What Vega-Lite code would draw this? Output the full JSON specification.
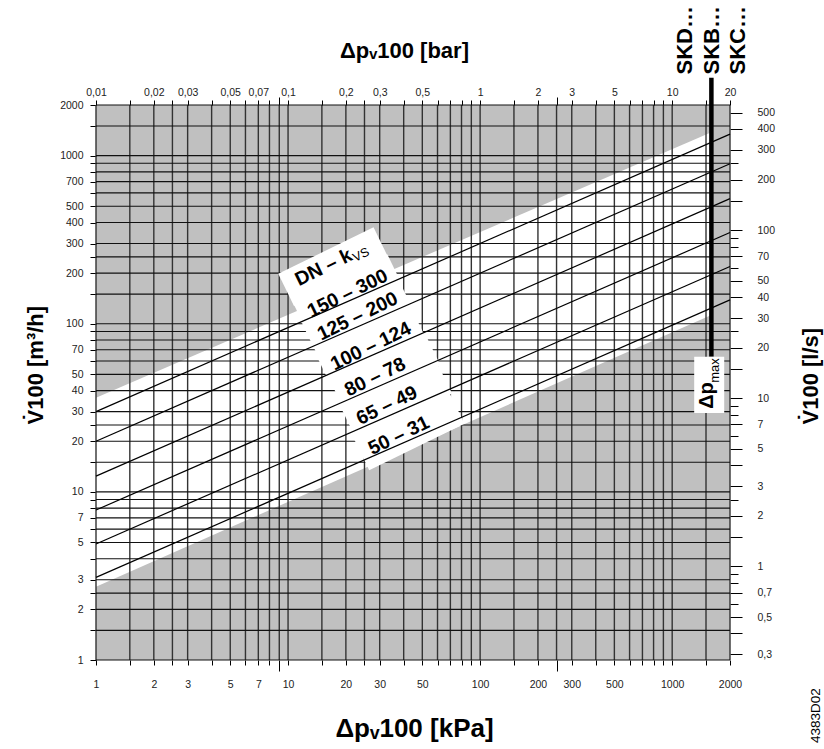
{
  "$schema": "https://vega.github.io/schema/vega-lite/v6.json",
  "width": 634,
  "height": 555,
  "autosize": {"type": "none"},
  "padding": {"left": 96, "top": 105, "right": 94, "bottom": 89},
  "background": "white",
  "config": {
    "view": {"fill": "#c0c0c0", "stroke": null},
    "font": "Liberation Sans",
    "axis": {
      "domain": false,
      "grid": false,
      "tickColor": "#000",
      "tickWidth": 1,
      "labelFont": "Liberation Sans",
      "labelFontSize": 10.5,
      "labelColor": "#222",
      "labelOverlap": false,
      "labelFlush": false,
      "titleFont": "Liberation Sans",
      "titleFontWeight": "bold",
      "titleColor": "#000"
    }
  },
  "datasets": {
    "grid": [
      {"g": 1}, {"g": 1.5}, {"g": 2}, {"g": 2.5}, {"g": 3}, {"g": 4}, {"g": 5}, {"g": 6}, {"g": 7}, {"g": 8}, {"g": 9},
      {"g": 10}, {"g": 15}, {"g": 20}, {"g": 25}, {"g": 30}, {"g": 40}, {"g": 50}, {"g": 60}, {"g": 70}, {"g": 80}, {"g": 90},
      {"g": 100}, {"g": 150}, {"g": 200}, {"g": 250}, {"g": 300}, {"g": 400}, {"g": 500}, {"g": 600}, {"g": 700}, {"g": 800}, {"g": 900},
      {"g": 1000}, {"g": 1500}, {"g": 2000}
    ],
    "band": [
      {"dp": 1, "lo": 2.73, "hi": 36.3},
      {"dp": 1600, "lo": 112.6, "hi": 1377}
    ],
    "kv": [
      {"k": "300", "dp": 1, "V": 30}, {"k": "300", "dp": 2000, "V": 1341.6},
      {"k": "200", "dp": 1, "V": 20}, {"k": "200", "dp": 2000, "V": 894.4},
      {"k": "124", "dp": 1, "V": 12.4}, {"k": "124", "dp": 2000, "V": 554.6},
      {"k": "78", "dp": 1, "V": 7.8}, {"k": "78", "dp": 2000, "V": 348.8},
      {"k": "49", "dp": 1, "V": 4.9}, {"k": "49", "dp": 2000, "V": 219.1},
      {"k": "31", "dp": 1, "V": 3.1}, {"k": "31", "dp": 2000, "V": 138.6}
    ],
    "labels": [
      {"lab": "DN – k", "dp": 15.3, "v": 216, "bdp": 17.3, "bv": 218.4},
      {"lab": "150 – 300", "dp": 20.4, "v": 150.9, "bdp": 20.4, "bv": 150.9},
      {"lab": "125 – 200", "dp": 23.0, "v": 110.5, "bdp": 23.0, "bv": 110.5},
      {"lab": "100 – 124", "dp": 27.0, "v": 73.3, "bdp": 27.0, "bv": 73.3},
      {"lab": "80 – 78", "dp": 28.4, "v": 48.2, "bdp": 31.9, "bv": 51.5},
      {"lab": "65 – 49", "dp": 32.7, "v": 32.6, "bdp": 36.7, "bv": 34.9},
      {"lab": "50 – 31", "dp": 37.8, "v": 21.6, "bdp": 42.6, "bv": 23.1}
    ],
    "series": [
      {"t": "SKD…", "dp": 1271, "v": 3035},
      {"t": "SKB…", "dp": 1757, "v": 3035},
      {"t": "SKC…", "dp": 2400, "v": 3035}
    ]
  },
  "resolve": {"axis": {"x": "independent", "y": "independent"}},
  "layer": [
    {
      "data": {"name": "band"},
      "mark": {"type": "area", "fill": "white", "stroke": null},
      "encoding": {
        "x": {
          "field": "dp", "type": "quantitative",
          "scale": {"type": "log", "domain": [1, 2000], "nice": false},
          "axis": {
            "orient": "top",
            "values": [1,1.5,2,2.5,3,4,5,6,7,8,9,10,15,20,25,30,40,50,60,70,80,90,100,150,200,250,300,400,500,600,700,800,900,1000,1500,2000],
            "labelExpr": "indexof([1,2,3,5,7,10,20,30,50,100,200,300,500,1000,2000], datum.value) >= 0 ? replace(format(datum.value / 100, '~g'), '.', ',') : ''",
            "tickSize": {"condition": {"test": "datum.value == 9 || datum.value == 250", "value": 8}, "value": 5},
            "labelPadding": 3,
            "title": "Δpᵥ100 [bar]",
            "titleFontSize": 22,
            "titleX": 308,
            "titleY": -48,
            "titleAlign": "center",
            "titleBaseline": "alphabetic"
          }
        },
        "y": {"field": "hi", "type": "quantitative", "scale": {"type": "log", "domain": [1, 2000], "nice": false}, "axis": null},
        "y2": {"field": "lo"}
      }
    },
    {
      "data": {"name": "grid"},
      "mark": {"type": "rule", "stroke": "#333", "strokeWidth": 1.4},
      "encoding": {
        "x": {
          "field": "g", "type": "quantitative",
          "scale": {"type": "log", "domain": [1, 2000], "nice": false},
          "axis": {
            "orient": "bottom",
            "values": [1,1.5,2,2.5,3,4,5,6,7,8,9,10,15,20,25,30,40,50,60,70,80,90,100,150,200,250,300,400,500,600,700,800,900,1000,1500,2000],
            "labelExpr": "indexof([1,2,3,5,7,10,20,30,50,100,200,300,500,1000,2000], datum.value) >= 0 ? replace(format(datum.value, '~g'), '.', ',') : ''",
            "tickSize": {"condition": {"test": "datum.value == 9 || datum.value == 250", "value": 11}, "value": 5},
            "labelPadding": 14,
            "title": "Δpᵥ100 [kPa]",
            "titleFontSize": 26,
            "titleX": 318,
            "titleY": 76,
            "titleAlign": "center",
            "titleBaseline": "alphabetic"
          }
        }
      }
    },
    {
      "data": {"name": "grid"},
      "mark": {"type": "rule", "stroke": "#111", "strokeWidth": 1.1},
      "encoding": {
        "y": {
          "field": "g", "type": "quantitative",
          "scale": {"type": "log", "domain": [1, 2000], "nice": false},
          "axis": {
            "orient": "left",
            "values": [1,1.5,2,2.5,3,4,5,6,7,8,9,10,15,20,25,30,40,50,60,70,80,90,100,150,200,250,300,400,500,600,700,800,900,1000,1500,2000],
            "labelExpr": "indexof([1,2,3,5,7,10,20,30,40,50,70,100,200,300,400,500,700,1000,2000], datum.value) >= 0 ? replace(format(datum.value, '~g'), '.', ',') : ''",
            "tickSize": 6,
            "labelPadding": 7,
            "title": "V̇100 [m³/h]",
            "titleFontSize": 22,
            "titleAngle": 270,
            "titleAlign": "left",
            "titleBaseline": "alphabetic",
            "titleX": -54,
            "titleY": 319
          }
        }
      }
    },
    {
      "data": {"name": "labels"},
      "mark": {"type": "point", "shape": "M-1,-0.3396L1,-0.3396L1,0.3396L-1,0.3396Z", "size": 11236, "angle": -26, "filled": true, "fill": "white", "strokeWidth": 0, "opacity": 1},
      "encoding": {
        "x": {"field": "bdp", "type": "quantitative", "scale": {"type": "log", "domain": [1, 2000], "nice": false}, "axis": null},
        "y": {"field": "bv", "type": "quantitative", "scale": {"type": "log", "domain": [1, 2000], "nice": false}, "axis": null}
      }
    },
    {
      "data": {"name": "kv"},
      "mark": {"type": "line", "color": "#000", "strokeWidth": 1.2},
      "encoding": {
        "x": {"field": "dp", "type": "quantitative", "scale": {"type": "log", "domain": [1, 2000], "nice": false}, "axis": null},
        "y": {
          "field": "V", "type": "quantitative",
          "scale": {"type": "log", "domain": [1, 2000], "nice": false},
          "axis": {
            "orient": "right",
            "values": [1800,1440,1080,900,720,540,360,324,288,252,216,180,144,108,90,72,54,36,32.4,28.8,25.2,21.6,18,14.4,10.8,9,7.2,5.4,3.6,3.24,2.88,2.52,2.16,1.8,1.44,1.08],
            "labelExpr": "indexof([1800,1440,1080,720,360,252,180,144,108,72,36,25.2,18,10.8,7.2,3.6,2.52,1.8,1.08], datum.value) >= 0 ? replace(format(datum.value / 3.6, '.3~g'), '.', ',') : ''",
            "tickSize": {"condition": {"test": "indexof([900,324,288,216,90,32.4,28.8,21.6,9,3.24,2.88,2.16], datum.value) >= 0", "value": 8}, "value": 12},
            "labelPadding": 15,
            "title": "V̇100 [l/s]",
            "titleFontSize": 22,
            "titleAngle": 270,
            "titleAlign": "left",
            "titleBaseline": "alphabetic",
            "titleX": 87,
            "titleY": 319
          }
        },
        "detail": {"field": "k", "type": "nominal"}
      }
    },
    {
      "data": {"name": "labels"},
      "mark": {"type": "text", "angle": -26, "fontSize": 19.5, "fontWeight": "bold", "font": "Liberation Sans", "align": "center", "baseline": "middle", "color": "#000"},
      "encoding": {
        "x": {"field": "dp", "type": "quantitative", "scale": {"type": "log", "domain": [1, 2000], "nice": false}, "axis": null},
        "y": {"field": "v", "type": "quantitative", "scale": {"type": "log", "domain": [1, 2000], "nice": false}, "axis": null},
        "text": {"field": "lab"}
      }
    },
    {
      "data": {"name": "labels"},
      "transform": [{"filter": "datum.lab == 'DN – k'"}],
      "mark": {"type": "text", "text": "VS", "angle": -26, "fontSize": 12.5, "font": "Liberation Sans", "align": "left", "baseline": "middle", "dx": 31, "dy": 5, "color": "#000"},
      "encoding": {
        "x": {"field": "dp", "type": "quantitative", "scale": {"type": "log", "domain": [1, 2000], "nice": false}, "axis": null},
        "y": {"field": "v", "type": "quantitative", "scale": {"type": "log", "domain": [1, 2000], "nice": false}, "axis": null}
      }
    },
    {
      "data": {"values": [{"dp": 1600, "top": 2900, "bot": 63.6}]},
      "mark": {"type": "rule", "color": "#000", "strokeWidth": 4.5},
      "encoding": {
        "x": {"field": "dp", "type": "quantitative", "scale": {"type": "log", "domain": [1, 2000], "nice": false}, "axis": null},
        "y": {"field": "top", "type": "quantitative", "scale": {"type": "log", "domain": [1, 2000], "nice": false}, "axis": null},
        "y2": {"field": "bot"}
      }
    },
    {
      "data": {"values": [{"x1": 1302, "x2": 1866, "y1": 63.6, "y2": 29.5}]},
      "mark": {"type": "rect", "fill": "white", "stroke": null},
      "encoding": {
        "x": {"field": "x1", "type": "quantitative", "scale": {"type": "log", "domain": [1, 2000], "nice": false}, "axis": null},
        "x2": {"field": "x2"},
        "y": {"field": "y1", "type": "quantitative", "scale": {"type": "log", "domain": [1, 2000], "nice": false}, "axis": null},
        "y2": {"field": "y2"}
      }
    },
    {
      "data": {"values": [{"t": "Δp", "dp": 1635, "v": 31.2}]},
      "mark": {"type": "text", "angle": 270, "fontSize": 20, "fontWeight": "bold", "font": "Liberation Sans", "align": "left", "baseline": "alphabetic", "color": "#000"},
      "encoding": {
        "x": {"field": "dp", "type": "quantitative", "scale": {"type": "log", "domain": [1, 2000], "nice": false}, "axis": null},
        "y": {"field": "v", "type": "quantitative", "scale": {"type": "log", "domain": [1, 2000], "nice": false}, "axis": null},
        "text": {"field": "t"}
      }
    },
    {
      "data": {"values": [{"t": "max", "dp": 1747, "v": 44.5}]},
      "mark": {"type": "text", "angle": 270, "fontSize": 13, "font": "Liberation Sans", "align": "left", "baseline": "alphabetic", "color": "#000"},
      "encoding": {
        "x": {"field": "dp", "type": "quantitative", "scale": {"type": "log", "domain": [1, 2000], "nice": false}, "axis": null},
        "y": {"field": "v", "type": "quantitative", "scale": {"type": "log", "domain": [1, 2000], "nice": false}, "axis": null},
        "text": {"field": "t"}
      }
    },
    {
      "data": {"name": "series"},
      "mark": {"type": "text", "angle": 270, "fontSize": 22, "fontWeight": "bold", "font": "Liberation Sans", "align": "left", "baseline": "alphabetic", "color": "#000"},
      "encoding": {
        "x": {"field": "dp", "type": "quantitative", "scale": {"type": "log", "domain": [1, 2000], "nice": false}, "axis": null},
        "y": {"field": "v", "type": "quantitative", "scale": {"type": "log", "domain": [1, 2000], "nice": false}, "axis": null},
        "text": {"field": "t"}
      }
    },
    {
      "data": {"values": [{"t": "4383D02", "dp": 5900, "v": 0.3206}]},
      "mark": {"type": "text", "angle": 270, "fontSize": 13.5, "font": "Liberation Sans", "align": "left", "baseline": "alphabetic", "color": "#000"},
      "encoding": {
        "x": {"field": "dp", "type": "quantitative", "scale": {"type": "log", "domain": [1, 2000], "nice": false}, "axis": null},
        "y": {"field": "v", "type": "quantitative", "scale": {"type": "log", "domain": [1, 2000], "nice": false}, "axis": null},
        "text": {"field": "t"}
      }
    }
  ]
}
